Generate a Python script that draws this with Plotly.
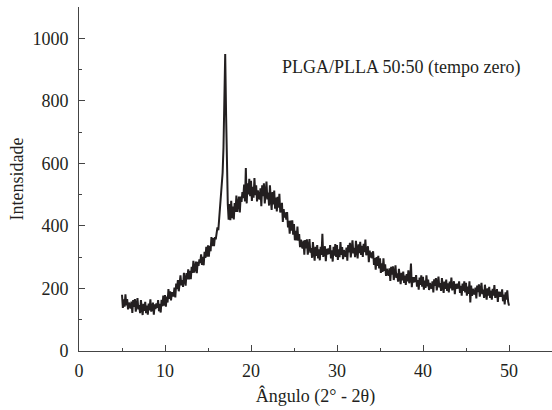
import plotly.graph_objects as go

# Diffractogram at 0.1 degree steps from 5.0 to 50.0
ANGLE_START = 5.0
ANGLE_STEP = 0.1
intensity = [
    180, 138, 165, 142, 181, 146, 166, 133, 155, 140,   # 5
    136, 158, 122, 163, 141, 166, 126, 147, 169, 133,   # 6
    147, 121, 163, 136, 115, 151, 128, 157, 121, 145,   # 7
    116, 152, 130, 165, 126, 136, 155, 116, 149, 134,   # 8
    152, 138, 163, 127, 151, 123, 164, 143, 177, 145,   # 9
    179, 142, 174, 155, 198, 167, 191, 162, 188, 177,   # 10
    177, 203, 171, 216, 198, 227, 191, 216, 242, 210,   # 11
    227, 205, 250, 227, 209, 249, 229, 261, 229, 256,   # 12
    230, 269, 250, 288, 251, 264, 286, 249, 285, 272,   # 13
    293, 281, 309, 275, 301, 274, 317, 298, 333, 302,   # 14
    338, 302, 336, 319, 364, 335, 361, 335, 364, 357,   # 15
    378, 395, 386, 420, 455, 500, 540, 570, 650, 810,   # 16
    950, 760, 540, 470, 420, 470, 418, 480, 425, 462,   # 17
    421, 473, 445, 497, 445, 463, 494, 443, 494, 477,   # 18
    508, 489, 532, 478, 585, 472, 536, 501, 551, 495,   # 19
    544, 480, 525, 490, 553, 498, 530, 478, 514, 490,   # 20
    485, 520, 463, 530, 495, 536, 472, 506, 542, 485,   # 21
    507, 465, 530, 486, 451, 508, 469, 513, 455, 491,   # 22
    446, 493, 458, 503, 443, 452, 474, 413, 454, 427,   # 23
    443, 420, 444, 395, 416, 375, 417, 385, 418, 372,   # 24
    406, 354, 384, 354, 398, 353, 374, 332, 356, 335,   # 25
    328, 353, 308, 355, 328, 357, 308, 333, 358, 314,   # 26
    329, 298, 348, 315, 289, 333, 304, 339, 296, 325,   # 27
    290, 333, 307, 375, 301, 313, 335, 287, 327, 308,   # 28
    328, 310, 339, 296, 322, 286, 333, 305, 342, 301,   # 29
    339, 291, 325, 300, 348, 307, 332, 294, 323, 306,   # 30
    302, 331, 289, 339, 315, 346, 299, 327, 354, 312,   # 31
    330, 300, 352, 320, 296, 341, 313, 349, 307, 336,   # 32
    301, 343, 316, 356, 306, 316, 335, 284, 321, 299,   # 33
    315, 296, 319, 275, 297, 260, 300, 272, 304, 264,   # 34
    296, 250, 280, 253, 296, 256, 277, 240, 263, 246,   # 35
    241, 264, 224, 269, 244, 271, 227, 250, 274, 234,   # 36
    248, 222, 263, 236, 214, 250, 226, 254, 218, 241,   # 37
    211, 246, 223, 258, 217, 226, 280, 204, 236, 219,   # 38
    236, 220, 243, 206, 227, 196, 235, 211, 242, 206,   # 39
    237, 196, 225, 202, 242, 207, 228, 195, 218, 203,   # 40
    200, 223, 187, 229, 208, 233, 194, 216, 238, 203,   # 41
    217, 192, 233, 207, 186, 222, 199, 228, 192, 216,   # 42
    187, 222, 200, 235, 194, 204, 223, 182, 215, 199,   # 43
    215, 200, 223, 186, 208, 177, 216, 192, 223, 187,   # 44
    218, 177, 206, 183, 223, 155, 209, 176, 199, 184,   # 45
    181, 203, 168, 209, 188, 213, 174, 195, 218, 182,   # 46
    196, 170, 212, 185, 164, 200, 177, 205, 170, 193,   # 47
    164, 199, 177, 211, 170, 180, 198, 157, 190, 173,   # 48
    189, 173, 197, 159, 180, 149, 188, 164, 194, 158,   # 49
    145,                                                # 50.0
]
angle = [round(ANGLE_START + ANGLE_STEP * i, 2) for i in range(len(intensity))]

x_ticks = [0, 10, 20, 30, 40, 50]
y_ticks = [0, 200, 400, 600, 800, 1000]
label_text = "PLGA/PLLA 50:50 (tempo zero)"

INK = "#231f20"
FONT = "Liberation Serif"

fig = go.Figure()
fig.add_trace(go.Scatter(
    x=angle, y=intensity, mode="lines",
    line=dict(color=INK, width=2),
    showlegend=False, hoverinfo="skip",
))

fig.add_annotation(
    x=23.4, y=905, xref="x", yref="y", text=label_text,
    showarrow=False, xanchor="left", yanchor="middle",
    font=dict(family=FONT, size=18, color=INK),
)

axis_common = dict(
    showline=True, linecolor="#444444", linewidth=1,
    ticks="inside", ticklen=6, tickwidth=1, tickcolor="#444444",
    showgrid=False, zeroline=False,
    tickfont=dict(family=FONT, size=18, color=INK),
)

fig.update_layout(
    width=552, height=410,
    margin=dict(l=79, r=0, t=7, b=59),
    paper_bgcolor="white", plot_bgcolor="white",
    font=dict(family=FONT, size=18, color=INK),
    xaxis=dict(
        range=[0, 55], tickvals=x_ticks, ticktext=[str(v) for v in x_ticks],
        minor=dict(tickvals=[5, 15, 25, 35, 45], ticks="inside", ticklen=3, tickcolor="#444444"),
        title=dict(text="Ângulo (2° - 2θ)", font=dict(family=FONT, size=18, color=INK), standoff=9),
        ticklabelstandoff=3,
        **axis_common,
    ),
    yaxis=dict(
        range=[0, 1100], tickvals=y_ticks, ticktext=[str(v) for v in y_ticks],
        minor=dict(tickvals=[100, 300, 500, 700, 900], ticks="inside", ticklen=3, tickcolor="#444444"),
        title=dict(text="Intensidade", font=dict(family=FONT, size=18, color=INK), standoff=4),
        ticklabelstandoff=6,
        **axis_common,
    ),
)

fig.write_html("out.html")
